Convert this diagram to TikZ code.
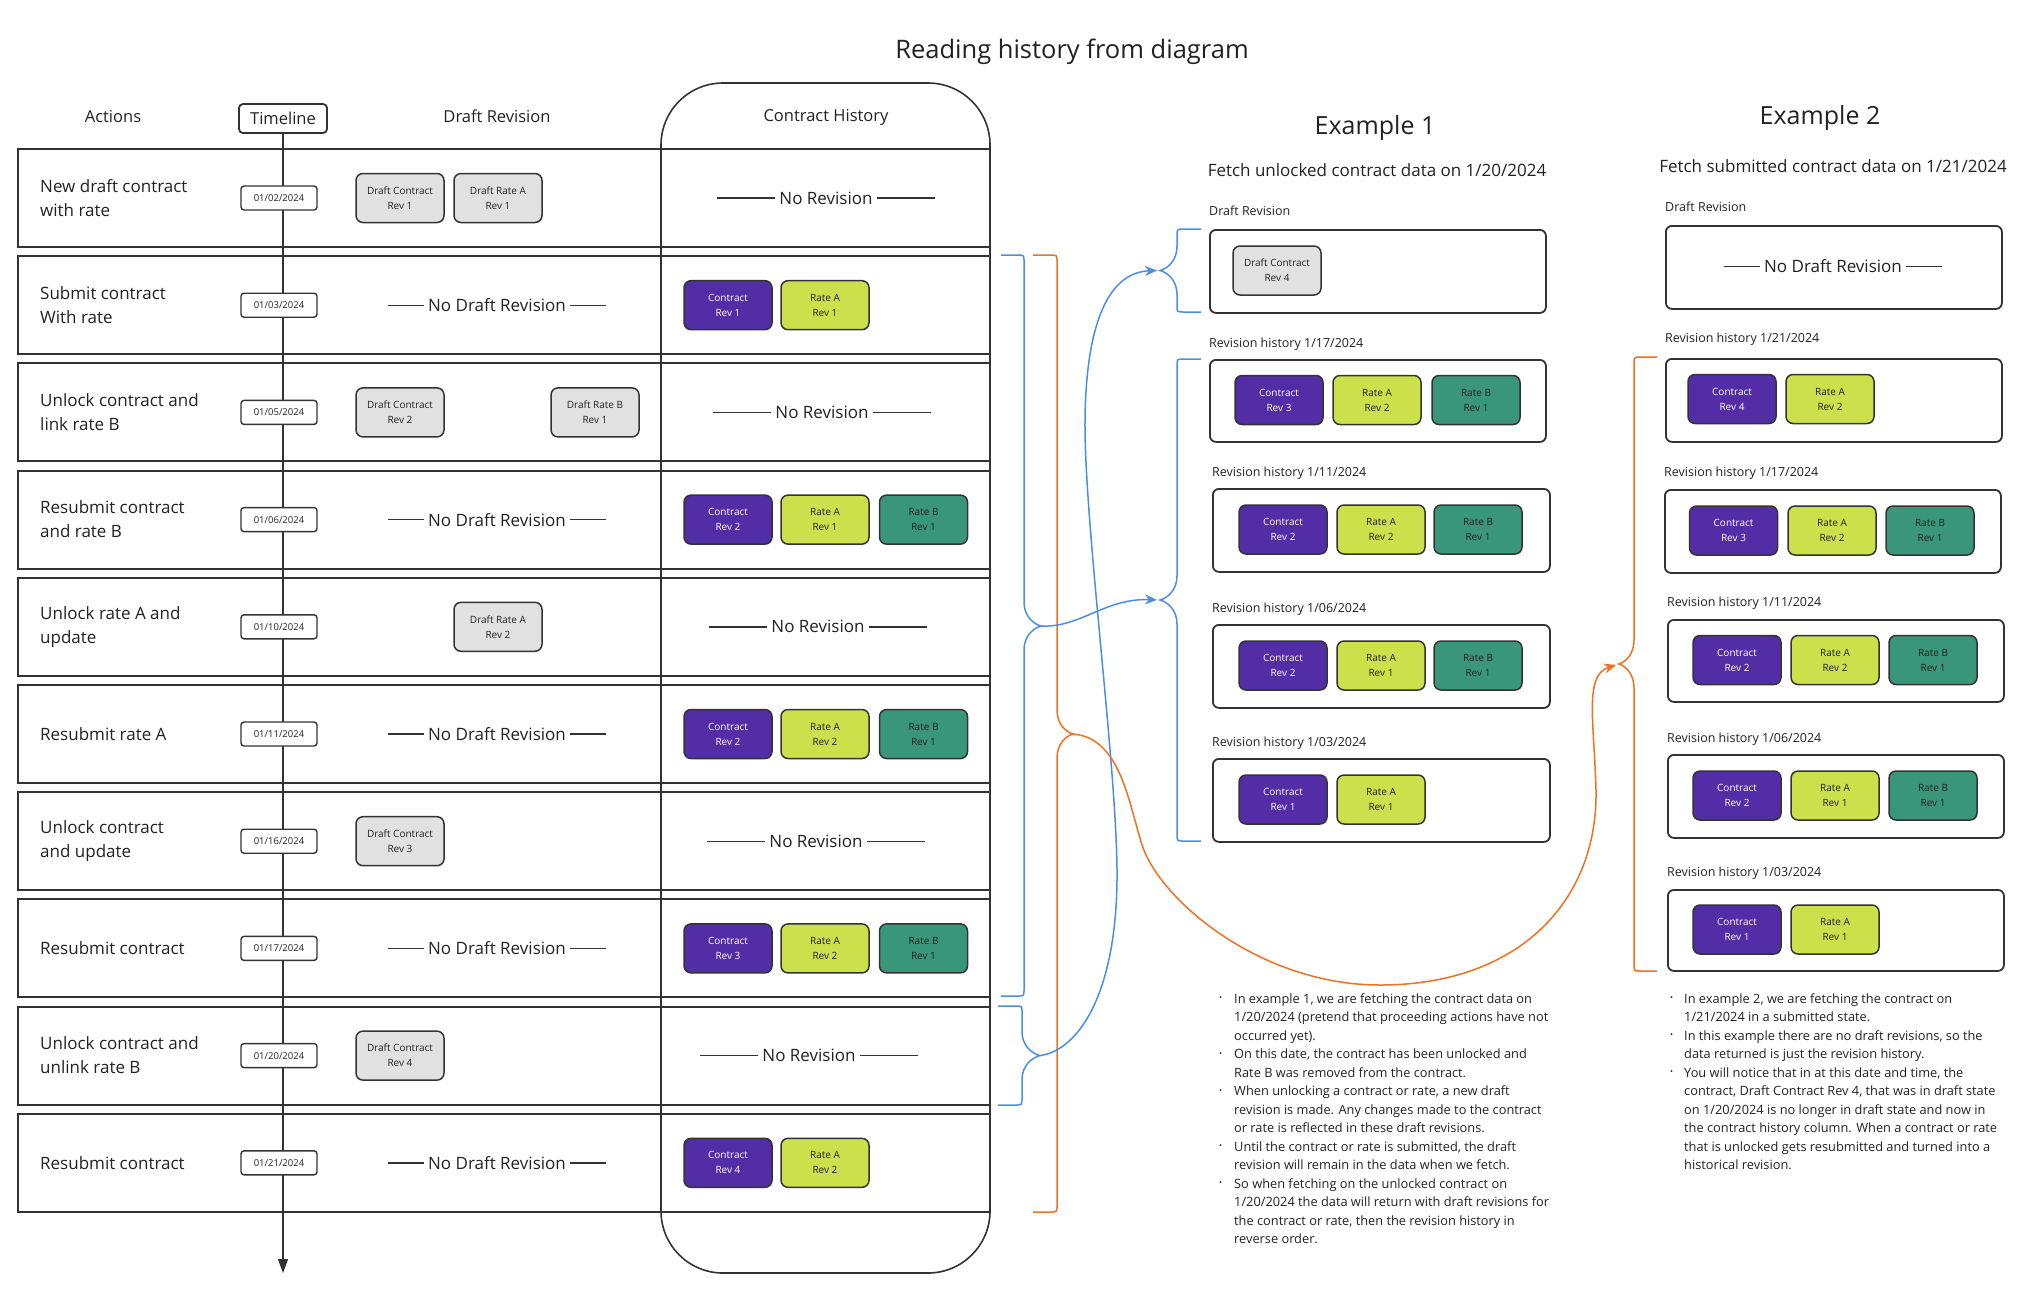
\documentclass[tikz,border=0pt]{standalone}
\usepackage{fontspec}
\setmainfont{Open Sans}
\usetikzlibrary{arrows.meta}
\definecolor{cpurple}{HTML}{532DA5}
\definecolor{cyellow}{HTML}{CBE04B}
\definecolor{cteal}{HTML}{3A967A}
\definecolor{cgray}{HTML}{E1E1E1}
\definecolor{cline}{HTML}{333333}
\definecolor{ctext}{HTML}{222222}
\definecolor{cblue}{HTML}{4A8FE3}
\definecolor{corange}{HTML}{F07122}
\tikzset{
  rev/.style={draw=cline, line width=1.5, rounded corners=7, minimum width=88, minimum height=49, inner sep=0, align=center, font=\fontsize{10}{15}\selectfont},
  ctr/.style={rev, fill=cpurple, text=white},
  ra/.style={rev, fill=cyellow, text=ctext},
  rb/.style={rev, fill=cteal, text=ctext},
  dft/.style={rev, fill=cgray, text=ctext},
  rowbox/.style={draw=cline, line width=2},
  rowlab/.style={anchor=west, align=left, inner sep=0, font=\fontsize{17}{24}\selectfont},
  datebox/.style={draw=cline, fill=white, line width=1.4, rounded corners=3, minimum width=76, minimum height=24, inner sep=0, font=\fontsize{9.5}{11}\selectfont},
  header/.style={font=\fontsize{16.5}{20}\selectfont, inner sep=0},
  nrl/.style={font=\fontsize{17}{20}\selectfont, inner sep=4},
  secbox/.style={draw=cline, line width=1.8, rounded corners=6, anchor=north west, inner sep=0},
  seclab/.style={anchor=west, inner sep=0, font=\fontsize{12.5}{15}\selectfont},
  notes/.style={anchor=north west, inner sep=0, font=\fontsize{12.8}{18.5}\selectfont},
  bluearrow/.style={cblue, line width=1.5, -{Stealth[length=12,width=10]}},
  orangearrow/.style={corange, line width=1.5, -{Stealth[length=12,width=10]}},
}
\newcommand\mybrace[8]{%
  \coordinate (#8) at (#4,#6);
  \draw[#1, line width=1.5] (#2,#5) -- ({#3-7*sign(#3-#2)},#5) .. controls (#3,#5) .. (#3,{#5+7})
    -- (#3,{#6-24}) .. controls (#3,{#6-10}) and ({#4-0.45*(#4-#3)},{#6-2}) .. (#8)
    .. controls ({#4-0.45*(#4-#3)},{#6+2}) and (#3,{#6+10}) .. (#3,{#6+24})
    -- (#3,{#7-7}) .. controls (#3,#7) .. ({#3-7*sign(#3-#2)},#7) -- (#2,#7);
}
\newcommand\dashlabel[5]{%
  \node[nrl] (#1) at (#2,#3) {#4};
  \draw[cline, line width=1.4] (#1.west) -- ++(-#5,0);
  \draw[cline, line width=1.4] (#1.east) -- ++(#5,0);
}
\newcommand\actrow[3]{%
  \pgfmathsetmacro\myrtop{149+(#1-1)*107.2}
  \pgfmathsetmacro\myrmid{\myrtop+49}
  \draw[rowbox] (18,\myrtop) rectangle (990,{\myrtop+98});
  \node[rowlab] (act#1) at (40,\myrmid) {#2};
  \node[datebox] (date#1) at (279,\myrmid) {#3};
}
\newcommand\mybul{\raisebox{2.2pt}{\fontsize{8}{8}\selectfont\textbullet}}
\begin{document}
\begin{tikzpicture}[x=1pt,y=-1pt, every node/.style={text=ctext}]
\useasboundingbox (0,0) rectangle (2033,1299);
\fill[white] (0,0) rectangle (2033,1299);

% title and headers
\node[font=\fontsize{25.5}{30}\selectfont] (title) at (1072,51.5) {Reading history from diagram};
\node[header] (hact) at (113,117) {Actions};
\node[header, draw=cline, line width=1.8, rounded corners=4, minimum width=88, minimum height=29] (tlhead) at (283,118.5) {Timeline};
\node[header] (hdraft) at (497,116) {Draft Revision};
\node[header] (hhist) at (826,117.5) {Contract History};

% timeline
\coordinate (tlend) at (283,1273);
\draw[cline, line width=1.3, -{Triangle[length=14,width=10]}] (tlhead.south) -- (tlend);

% contract history column
\draw[cline, line width=1.6, rounded corners=62] (661,83) rectangle (990,1273);

% rows
\actrow{1}{New draft contract\\with rate}{01/02/2024}
\actrow{2}{Submit contract\\With rate}{01/03/2024}
\actrow{3}{Unlock contract and\\link rate B}{01/05/2024}
\actrow{4}{Resubmit contract\\and rate B}{01/06/2024}
\actrow{5}{Unlock rate A and\\update}{01/10/2024}
\actrow{6}{Resubmit rate A}{01/11/2024}
\actrow{7}{Unlock contract\\and update}{01/16/2024}
\actrow{8}{Resubmit contract}{01/17/2024}
\actrow{9}{Unlock contract and\\unlink rate B}{01/20/2024}
\actrow{10}{Resubmit contract}{01/21/2024}

% row 1
\node[dft] (r1d1) at (400,198) {Draft Contract\\Rev 1};
\node[dft] (r1d2) at (498,198) {Draft Rate A\\Rev 1};
\dashlabel{r1nr}{826}{198}{No Revision}{58}
% row 2
\dashlabel{r2nd}{497}{305.2}{No Draft Revision}{36}
\node[ctr] (r2c) at (728,305.2) {Contract\\Rev 1};
\node[ra] (r2a) at (825,305.2) {Rate A\\Rev 1};
% row 3
\node[dft] (r3d1) at (400,412.4) {Draft Contract\\Rev 2};
\node[dft] (r3d2) at (595,412.4) {Draft Rate B\\Rev 1};
\dashlabel{r3nr}{822}{412.4}{No Revision}{58}
% row 4
\dashlabel{r4nd}{497}{519.6}{No Draft Revision}{36}
\node[ctr] (r4c) at (728,519.6) {Contract\\Rev 2};
\node[ra] (r4a) at (825,519.6) {Rate A\\Rev 1};
\node[rb] (r4b) at (923.5,519.6) {Rate B\\Rev 1};
% row 5
\node[dft] (r5d) at (498,626.8) {Draft Rate A\\Rev 2};
\dashlabel{r5nr}{818}{626.8}{No Revision}{58}
% row 6
\dashlabel{r6nd}{497}{734}{No Draft Revision}{36}
\node[ctr] (r6c) at (728,734) {Contract\\Rev 2};
\node[ra] (r6a) at (825,734) {Rate A\\Rev 2};
\node[rb] (r6b) at (923.5,734) {Rate B\\Rev 1};
% row 7
\node[dft] (r7d) at (400,841.2) {Draft Contract\\Rev 3};
\dashlabel{r7nr}{816}{841.2}{No Revision}{58}
% row 8
\dashlabel{r8nd}{497}{948.4}{No Draft Revision}{36}
\node[ctr] (r8c) at (728,948.4) {Contract\\Rev 3};
\node[ra] (r8a) at (825,948.4) {Rate A\\Rev 2};
\node[rb] (r8b) at (923.5,948.4) {Rate B\\Rev 1};
% row 9
\node[dft] (r9d) at (400,1055.6) {Draft Contract\\Rev 4};
\dashlabel{r9nr}{809}{1055.6}{No Revision}{58}
% row 10
\dashlabel{r10nd}{497}{1162.8}{No Draft Revision}{36}
\node[ctr] (r10c) at (728,1162.8) {Contract\\Rev 4};
\node[ra] (r10a) at (825,1162.8) {Rate A\\Rev 2};

% ---------- Example 1 ----------
\node[font=\fontsize{25}{30}\selectfont] (ex1) at (1375,128) {Example 1};
\node[font=\fontsize{17}{20}\selectfont] (ex1sub) at (1377,170) {Fetch unlocked contract data on 1/20/2024};
\node[seclab] (e1dl) at (1209,211) {Draft Revision};
\node[secbox, minimum width=336, minimum height=83] (e1d) at (1209,229) {};
\node[dft] (e1dc) at (1277,270.5) {Draft Contract\\Rev 4};

\node[seclab] (e1h1l) at (1209,344) {Revision history 1/17/2024};
\node[secbox, minimum width=336, minimum height=82] (e1h1) at (1209,359) {};
\node[ctr] (e1h1c) at (1279,400) {Contract\\Rev 3};
\node[ra] (e1h1a) at (1377,400) {Rate A\\Rev 2};
\node[rb] (e1h1b) at (1476,400) {Rate B\\Rev 1};

\node[seclab] (e1h2l) at (1212,473) {Revision history 1/11/2024};
\node[secbox, minimum width=337, minimum height=83] (e1h2) at (1212,488) {};
\node[ctr] (e1h2c) at (1283,529.5) {Contract\\Rev 2};
\node[ra] (e1h2a) at (1381,529.5) {Rate A\\Rev 2};
\node[rb] (e1h2b) at (1478,529.5) {Rate B\\Rev 1};

\node[seclab] (e1h3l) at (1212,609) {Revision history 1/06/2024};
\node[secbox, minimum width=337, minimum height=83] (e1h3) at (1212,624) {};
\node[ctr] (e1h3c) at (1283,665.5) {Contract\\Rev 2};
\node[ra] (e1h3a) at (1381,665.5) {Rate A\\Rev 1};
\node[rb] (e1h3b) at (1478,665.5) {Rate B\\Rev 1};

\node[seclab] (e1h4l) at (1212,743) {Revision history 1/03/2024};
\node[secbox, minimum width=337, minimum height=83] (e1h4) at (1212,758) {};
\node[ctr] (e1h4c) at (1283,799.5) {Contract\\Rev 1};
\node[ra] (e1h4a) at (1381,799.5) {Rate A\\Rev 1};

% ---------- Example 2 ----------
\node[font=\fontsize{25}{30}\selectfont] (ex2) at (1820,118) {Example 2};
\node[font=\fontsize{17}{20}\selectfont] (ex2sub) at (1833,166) {Fetch submitted contract data on 1/21/2024};
\node[seclab] (e2dl) at (1665,207) {Draft Revision};
\node[secbox, minimum width=336, minimum height=83] (e2d) at (1665,225) {};
\dashlabel{e2nd}{1833}{266.5}{No Draft Revision}{36}

\node[seclab] (e2h0l) at (1665,339) {Revision history 1/21/2024};
\node[secbox, minimum width=336, minimum height=83] (e2h0) at (1665,358) {};
\node[ctr] (e2h0c) at (1732,399) {Contract\\Rev 4};
\node[ra] (e2h0a) at (1830,399) {Rate A\\Rev 2};

\node[seclab] (e2h1l) at (1664,473) {Revision history 1/17/2024};
\node[secbox, minimum width=336, minimum height=83] (e2h1) at (1664,489) {};
\node[ctr] (e2h1c) at (1733.5,530.5) {Contract\\Rev 3};
\node[ra] (e2h1a) at (1832,530.5) {Rate A\\Rev 2};
\node[rb] (e2h1b) at (1930,530.5) {Rate B\\Rev 1};

\node[seclab] (e2h2l) at (1667,603) {Revision history 1/11/2024};
\node[secbox, minimum width=336, minimum height=82] (e2h2) at (1667,619) {};
\node[ctr] (e2h2c) at (1737,660) {Contract\\Rev 2};
\node[ra] (e2h2a) at (1835,660) {Rate A\\Rev 2};
\node[rb] (e2h2b) at (1933,660) {Rate B\\Rev 1};

\node[seclab] (e2h3l) at (1667,739) {Revision history 1/06/2024};
\node[secbox, minimum width=336, minimum height=83] (e2h3) at (1667,754) {};
\node[ctr] (e2h3c) at (1737,795.5) {Contract\\Rev 2};
\node[ra] (e2h3a) at (1835,795.5) {Rate A\\Rev 1};
\node[rb] (e2h3b) at (1933,795.5) {Rate B\\Rev 1};

\node[seclab] (e2h4l) at (1667,873) {Revision history 1/03/2024};
\node[secbox, minimum width=336, minimum height=81] (e2h4) at (1667,889) {};
\node[ctr] (e2h4c) at (1737,929.5) {Contract\\Rev 1};
\node[ra] (e2h4a) at (1835,929.5) {Rate A\\Rev 1};

% ---------- braces ----------
\mybrace{cblue}{1001}{1024}{1041}{255}{626}{996}{bbT}
\mybrace{cblue}{998}{1022}{1040}{1006}{1055.6}{1105}{r9T}
\mybrace{corange}{1033}{1057}{1073}{255}{734}{1212}{boT}
\mybrace{cblue}{1201}{1177}{1160}{229}{270.5}{312}{e1dT}
\mybrace{cblue}{1201}{1177}{1160}{359}{600}{841}{e1hT}
\mybrace{corange}{1657}{1634}{1619}{357}{664}{971}{e2T}

% ---------- arrows ----------
\draw[bluearrow, shorten >=3] (bbT) .. controls (1080,628) and (1105,598) .. (e1hT);
\draw[bluearrow, shorten >=3] (r9T) .. controls (1080,1050) and (1118,990) .. (1117,870)
   .. controls (1116,760) and (1084,520) .. (1085,420)
   .. controls (1086,320) and (1110,272) .. (e1dT);
\draw[orangearrow, shorten >=3] (boT) .. controls (1120,738) and (1128,800) .. (1142,845)
   .. controls (1160,900) and (1260,985) .. (1380,985)
   .. controls (1520,985) and (1598,900) .. (1596,790)
   .. controls (1594,720) and (1584,675) .. (e2T);

% ---------- notes ----------
\node[notes] (notes1) at (1219,990) {\begin{tabular}{@{}p{15pt}@{}l@{}}
\mybul & In example 1, we are fetching the contract data on\\
 & 1/20/2024 (pretend that proceeding actions have not\\
 & occurred yet).\\
\mybul & On this date, the contract has been unlocked and\\
 & Rate B was removed from the contract.\\
\mybul & When unlocking a contract or rate, a new draft\\
 & revision is made. Any changes made to the contract\\
 & or rate is reflected in these draft revisions.\\
\mybul & Until the contract or rate is submitted, the draft\\
 & revision will remain in the data when we fetch.\\
\mybul & So when fetching on the unlocked contract on\\
 & 1/20/2024 the data will return with draft revisions for\\
 & the contract or rate, then the revision history in\\
 & reverse order.
\end{tabular}};
\node[notes] (notes2) at (1670,990) {\begin{tabular}{@{}p{14pt}@{}l@{}}
\mybul & In example 2, we are fetching the contract on\\
 & 1/21/2024 in a submitted state.\\
\mybul & In this example there are no draft revisions, so the\\
 & data returned is just the revision history.\\
\mybul & You will notice that in at this date and time, the\\
 & contract, Draft Contract Rev 4, that was in draft state\\
 & on 1/20/2024 is no longer in draft state and now in\\
 & the contract history column. When a contract or rate\\
 & that is unlocked gets resubmitted and turned into a\\
 & historical revision.
\end{tabular}};
\end{tikzpicture}
\end{document}
